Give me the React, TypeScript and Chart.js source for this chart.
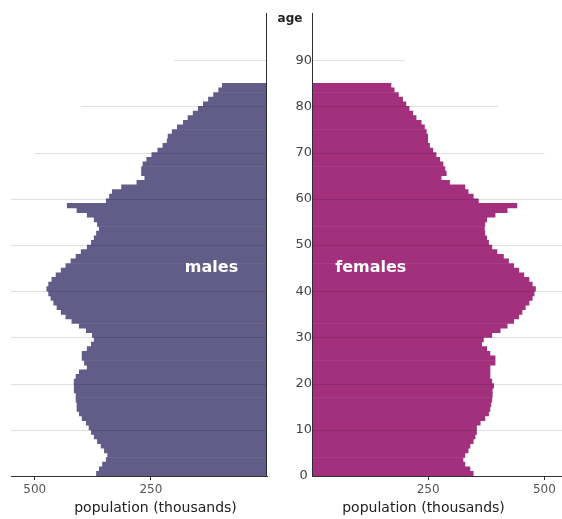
import React, { useEffect, useRef } from "react";
import { Chart, registerables } from "chart.js";

Chart.register(...registerables);

// Single years of age (bar bottoms), 0 .. 84
const AGES = [
  0, 1, 2, 3, 4, 5, 6, 7, 8, 9,
  10, 11, 12, 13, 14, 15, 16, 17, 18, 19,
  20, 21, 22, 23, 24, 25, 26, 27, 28, 29,
  30, 31, 32, 33, 34, 35, 36, 37, 38, 39,
  40, 41, 42, 43, 44, 45, 46, 47, 48, 49,
  50, 51, 52, 53, 54, 55, 56, 57, 58, 59,
  60, 61, 62, 63, 64, 65, 66, 67, 68, 69,
  70, 71, 72, 73, 74, 75, 76, 77, 78, 79,
  80, 81, 82, 83, 84,
];

// Population in thousands, by single year of age
const MALES = [
  367, 361, 354, 346, 343, 350, 357, 365, 372, 378,
  383, 389, 398, 404, 409, 409, 411, 411, 415, 415,
  415, 411, 404, 387, 393, 398, 398, 387, 378, 372,
  376, 389, 404, 420, 433, 443, 452, 459, 465, 470,
  474, 470, 463, 454, 443, 433, 422, 411, 400, 387,
  378, 372, 367, 361, 365, 372, 387, 409, 430, 346,
  339, 333, 313, 280, 263, 270, 270, 267, 259, 248,
  235, 224, 215, 213, 204, 193, 180, 170, 159, 148,
  137, 126, 115, 104, 96,
];

const FEMALES = [
  347, 340, 329, 325, 329, 336, 340, 347, 351, 354,
  354, 362, 372, 380, 383, 385, 387, 388, 388, 391,
  387, 383, 383, 383, 394, 394, 383, 376, 365, 369,
  387, 405, 420, 434, 445, 452, 459, 467, 474, 478,
  481, 474, 467, 456, 445, 434, 423, 412, 398, 387,
  380, 376, 372, 371, 372, 376, 394, 420, 441, 358,
  347, 336, 329, 296, 278, 289, 286, 282, 275, 267,
  260, 253, 249, 249, 246, 242, 235, 224, 217, 209,
  202, 195, 186, 177, 170,
];

// Axis ticks
const X_TICKS = [250, 500];
const AGE_TICKS = [0, 10, 20, 30, 40, 50, 60, 70, 80, 90];
const AGE_TITLE = "age";

// Horizontal reference lines: age and how far (thousands) they reach (null = full width)
const GRID_AGES = [10, 20, 30, 40, 50, 60, 70, 80, 90];
const GRID_REACH: (number | null)[] = [null, null, null, null, null, null, 500, 400, 200];

const X_TITLE = "population (thousands)";

const MALE_COLOR = "#615c88";
const FEMALE_COLOR = "#a2307c";
const FONT = "'DejaVu Sans', 'Liberation Sans', sans-serif";

const overlayPlugin = {
  id: "pyramidOverlay",
  afterDatasetsDraw(chart: any, _args: any, opts: any) {
    const { ctx, chartArea, scales } = chart;
    const xs = scales.x;
    const ys = scales.y;
    const x0 = xs.getPixelForValue(0);
    const edge = opts.side === "left" ? chartArea.left : chartArea.right;
    ctx.save();
    // grid lines on top of bars
    ctx.strokeStyle = "rgba(0,0,0,0.12)";
    ctx.lineWidth = 1;
    GRID_AGES.forEach((age, i) => {
      const reach = GRID_REACH[i];
      const y = Math.round(ys.getPixelForValue(age)) + 0.5;
      const xe = reach == null ? edge : xs.getPixelForValue(reach);
      ctx.beginPath();
      ctx.moveTo(x0, y);
      ctx.lineTo(xe, y);
      ctx.stroke();
    });
    // vertical axis line
    ctx.strokeStyle = "#2d2d3a";
    const xl = opts.side === "left" ? Math.round(x0) - 0.5 : Math.round(x0) + 0.5;
    ctx.beginPath();
    ctx.moveTo(xl, chartArea.top - 1);
    ctx.lineTo(xl, chartArea.bottom);
    ctx.stroke();
    // series label
    ctx.fillStyle = "#ffffff";
    ctx.font = `bold 16px ${FONT}`;
    ctx.textBaseline = "middle";
    ctx.textAlign = opts.side === "left" ? "right" : "left";
    ctx.fillText(opts.label, xs.getPixelForValue(opts.labelValue), ys.getPixelForValue(opts.labelAge));
    // axis title
    ctx.fillStyle = "#222222";
    ctx.font = `14px ${FONT}`;
    ctx.textAlign = "center";
    ctx.fillText(X_TITLE, xs.getPixelForValue(opts.titleValue), chartArea.bottom + 32);
    // age axis title at top of the age column
    if (opts.side === "right") {
      ctx.font = `bold 12px ${FONT}`;
      ctx.fillStyle = "#222222";
      ctx.textAlign = "center";
      ctx.fillText(AGE_TITLE, (ys.left + ys.right) / 2, ys.getPixelForValue(99));
    }
    ctx.restore();
  },
};

function makeConfig(side: "left" | "right", values: number[], color: string, label: string, xMax: number): any {
  const isLeft = side === "left";
  return {
    type: "bar",
    data: {
      datasets: [
        {
          label,
          data: values.map((v, i) => ({ x: v, y: AGES[i] + 0.5 })),
          backgroundColor: color,
          borderWidth: 0,
          barPercentage: 1,
          categoryPercentage: 1,
        },
      ],
    },
    options: {
      indexAxis: "y",
      animation: false,
      responsive: true,
      maintainAspectRatio: false,
      events: [],
      layout: { padding: isLeft ? { left: 11, right: 1, top: 14, bottom: 0 } : { left: 0, right: 0, top: 14, bottom: 0 } },
      plugins: {
        legend: { display: false },
        tooltip: { enabled: false },
        pyramidOverlay: {
          side,
          label,
          labelValue: isLeft ? 62 : 50,
          labelAge: 45,
          titleValue: 240,
        },
      },
      scales: {
        x: {
          type: "linear",
          position: "bottom",
          reverse: isLeft,
          min: 0,
          max: xMax,
          afterBuildTicks: (scale: any) => {
            scale.ticks = X_TICKS.map((v) => ({ value: v }));
          },
          afterFit: (scale: any) => {
            scale.height = 43;
          },
          ticks: {
            color: "#555555",
            font: { family: FONT, size: 12 },
            padding: 3,
            maxRotation: 0,
          },
          grid: { drawOnChartArea: false, drawTicks: true, tickLength: 4, color: "#333333" },
          border: { display: true, color: "#333333", width: 1 },
        },
        y: {
          type: "linear",
          display: !isLeft,
          position: "left",
          offset: false,
          min: 0,
          max: 100,
          afterBuildTicks: (scale: any) => {
            scale.ticks = AGE_TICKS.map((v) => ({ value: v }));
          },
          afterFit: (scale: any) => {
            scale.width = isLeft ? 0 : 44;
          },
          ticks: {
            padding: 0,
            crossAlign: "center",
            color: "#444444",
            font: { family: FONT, size: 13 },
          },
          grid: { display: false, drawTicks: false, offset: false },
          border: { display: false },
        },
      },
    },
    plugins: [overlayPlugin],
  };
}

export default function App() {
  const leftRef = useRef<HTMLCanvasElement | null>(null);
  const rightRef = useRef<HTMLCanvasElement | null>(null);

  useEffect(() => {
    if (!leftRef.current || !rightRef.current) return;
    const left = new Chart(leftRef.current, makeConfig("left", MALES, MALE_COLOR, "males", 551));
    const right = new Chart(rightRef.current, makeConfig("right", FEMALES, FEMALE_COLOR, "females", 538));
    return () => {
      left.destroy();
      right.destroy();
    };
  }, []);

  return (
    <div style={{ position: "absolute", left: 0, top: 0, width: 562, height: 519, background: "#ffffff" }}>
      <div style={{ position: "absolute", left: 0, top: 0, width: 268, height: 519 }}>
        <canvas ref={leftRef} />
      </div>
      <div style={{ position: "absolute", left: 268, top: 0, width: 294, height: 519 }}>
        <canvas ref={rightRef} />
      </div>
    </div>
  );
}
